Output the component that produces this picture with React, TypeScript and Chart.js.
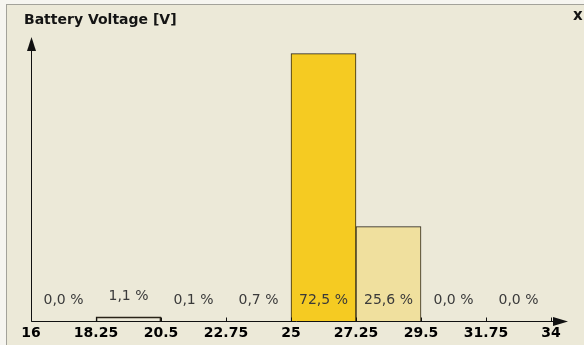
import { useEffect, useRef } from 'react';
import { Chart, registerables } from 'chart.js';

Chart.register(...registerables);

// ---- data ----
const titleText = 'Battery Voltage [V]';
const closeText = 'x';
const binEdges = [16, 18.25, 20.5, 22.75, 25, 27.25, 29.5, 31.75, 34];
const tickLabels = ['16', '18.25', '20.5', '22.75', '25', '27.25', '29.5', '31.75', '34'];
const percentages = [0.0, 1.1, 0.1, 0.7, 72.5, 25.6, 0.0, 0.0];
const percentLabels = percentages.map((v) => v.toFixed(1).replace('.', ',') + ' %');

// ---- styles ----
const W = 584;
const H = 345;
const PANEL_BG = '#ECE9D8';
const OUTER_BG = '#f6f5f0';
const AXIS_COLOR = '#111111';
const FILL_MAIN = '#F5CB22';
const FILL_SECOND = '#F0E09E';
const EMPTY = 'rgba(0,0,0,0)';
const MIN_OUTLINED = 1; // bars below this percentage are drawn without outline

const barColors = percentages.map((_, i) => {
  const order = [...percentages].map((v, j) => ({ v, j })).sort((a, b) => b.v - a.v);
  if (order[0].j === i) return FILL_MAIN;
  if (order[1].j === i) return FILL_SECOND;
  return EMPTY;
});

const decorPlugin = {
  id: 'decor',
  beforeDraw(chart: any) {
    const ctx = chart.ctx as CanvasRenderingContext2D;
    ctx.save();
    ctx.fillStyle = OUTER_BG;
    ctx.fillRect(0, 0, W, H);
    ctx.fillStyle = PANEL_BG;
    ctx.fillRect(6, 4, W - 6, H - 4);
    ctx.fillStyle = '#a3a29a';
    ctx.fillRect(6, 4, W - 6, 1);
    ctx.fillRect(6, 4, 1, H - 4);
    ctx.fillStyle = '#141414';
    ctx.textBaseline = 'alphabetic';
    ctx.textAlign = 'left';
    ctx.font = 'bold 14px "DejaVu Sans"';
    ctx.fillText(titleText, 24, 24);
    ctx.font = 'bold 15px "DejaVu Sans"';
    ctx.fillText(closeText, 573, 20);
    ctx.restore();
  },
  afterDatasetsDraw(chart: any) {
    const ctx = chart.ctx as CanvasRenderingContext2D;
    const a = chart.chartArea;
    const x = chart.scales.x;
    const y = chart.scales.y;
    ctx.save();
    ctx.strokeStyle = AXIS_COLOR;
    ctx.lineWidth = 1;
    const y0 = Math.round(a.bottom) + 0.5;
    const x0 = Math.round(a.left) + 0.5;
    ctx.beginPath();
    ctx.moveTo(x0, y0);
    ctx.lineTo(x0, a.top + 6);
    ctx.moveTo(x0, y0);
    ctx.lineTo(a.right + 10, y0);
    binEdges.forEach((v) => {
      const px = Math.round(x.getPixelForValue(v)) + 0.5;
      ctx.moveTo(px, y0);
      ctx.lineTo(px, y0 - 4);
    });
    ctx.stroke();
    ctx.fillStyle = AXIS_COLOR;
    ctx.beginPath();
    ctx.moveTo(x0, a.top);
    ctx.lineTo(x0 - 4.5, a.top + 14);
    ctx.lineTo(x0 + 4.5, a.top + 14);
    ctx.closePath();
    ctx.fill();
    const xe = a.right + 17;
    ctx.beginPath();
    ctx.moveTo(xe, y0);
    ctx.lineTo(xe - 15, y0 - 4.5);
    ctx.lineTo(xe - 15, y0 + 4.5);
    ctx.closePath();
    ctx.fill();
    ctx.fillStyle = '#3a3a3a';
    ctx.font = '14px "DejaVu Sans"';
    ctx.textAlign = 'center';
    ctx.textBaseline = 'middle';
    percentLabels.forEach((t, i) => {
      const cx = x.getPixelForValue((binEdges[i] + binEdges[i + 1]) / 2);
      const barH = a.bottom - y.getPixelForValue(percentages[i]);
      const lift = percentages[i] >= MIN_OUTLINED && barH < 30 ? barH : 0;
      ctx.fillText(t, cx, a.bottom - 21 - lift);
    });
    ctx.restore();
  },
};

export default function App() {
  const ref = useRef<HTMLCanvasElement>(null);
  useEffect(() => {
    const chart = new Chart(ref.current as HTMLCanvasElement, {
      type: 'bar',
      data: {
        datasets: [
          {
            data: percentages.map((v, i) => ({ x: (binEdges[i] + binEdges[i + 1]) / 2, y: v })),
            backgroundColor: barColors,
            borderColor: '#2a2418',
            borderWidth: (c: any) => (percentages[c.dataIndex] >= MIN_OUTLINED ? 1 : 0),
            borderSkipped: 'bottom',
            barPercentage: 1,
            categoryPercentage: 1,
          },
        ],
      },
      options: {
        responsive: false,
        animation: false,
        devicePixelRatio: 1,
        layout: { padding: { left: 31, right: 33, top: 37, bottom: 0 } },
        plugins: { legend: { display: false }, tooltip: { enabled: false }, title: { display: false } },
        scales: {
          x: {
            type: 'linear',
            min: binEdges[0],
            max: binEdges[binEdges.length - 1],
            offset: false,
            grid: { display: false, drawTicks: false, offset: false },
            border: { display: false },
            afterBuildTicks: (scale: any) => {
              scale.ticks = binEdges.map((v) => ({ value: v }));
            },
            ticks: {
              autoSkip: false,
              maxRotation: 0,
              minRotation: 0,
              padding: 4,
              color: '#000',
              font: { family: '"DejaVu Sans"', size: 14, weight: 'bold', lineHeight: '16px' },
              callback: (_v: any, i: number) => tickLabels[i],
            },
          },
          y: { display: false, min: 0, max: 77 },
        },
      },
      plugins: [decorPlugin],
    } as any);
    return () => chart.destroy();
  }, []);
  return (
    <div style={{ position: 'absolute', left: 0, top: 0, width: W, height: H, overflow: 'hidden' }}>
      <canvas ref={ref} width={W} height={H} style={{ display: 'block', width: W, height: H }} />
    </div>
  );
}
